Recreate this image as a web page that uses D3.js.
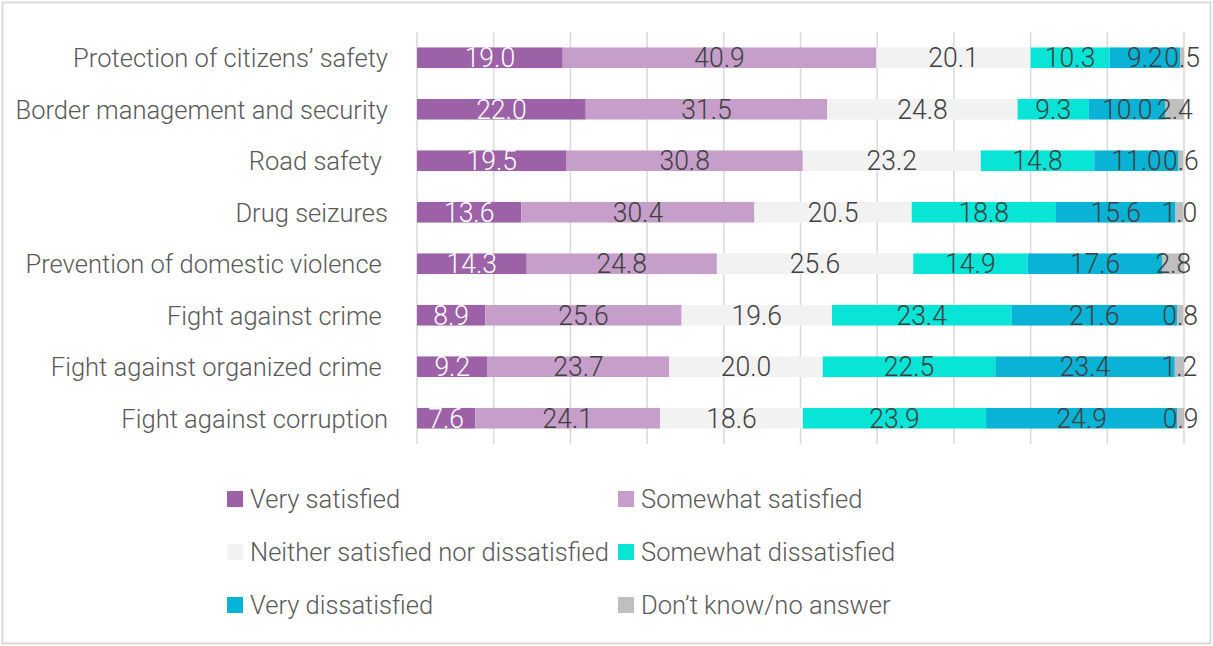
<!DOCTYPE html>
<html>
<head>
<meta charset="utf-8">
<script src="https://cdn.jsdelivr.net/npm/d3@7"></script>
<style>
	html, body { margin: 0; padding: 0; background: #fff; }
	svg text { font-family: Roboto, 'Noto Sans', sans-serif; font-weight: 300; white-space: pre; }
</style>
</head>
<body>
<div id="chart"></div>
<script>
const categories = [
	'Protection of citizens’ safety',
	'Border management and security',
	'Road safety ',
	'Drug seizures',
	'Prevention of domestic violence ',
	'Fight against crime ',
	'Fight against organized crime ',
	'Fight against corruption',
];
const seriesNames = [
	'Very satisfied',
	'Somewhat satisfied',
	'Neither satisfied nor dissatisfied',
	'Somewhat dissatisfied',
	'Very dissatisfied',
	'Don’t know/no answer',
];
const verySatisfied = [19.0, 22.0, 19.5, 13.6, 14.3, 8.9, 9.2, 7.6];
const somewhatSatisfied = [40.9, 31.5, 30.8, 30.4, 24.8, 25.6, 23.7, 24.1];
const neither = [20.1, 24.8, 23.2, 20.5, 25.6, 19.6, 20.0, 18.6];
const somewhatDissatisfied = [10.3, 9.3, 14.8, 18.8, 14.9, 23.4, 22.5, 23.9];
const veryDissatisfied = [9.2, 10.0, 11.0, 15.6, 17.6, 21.6, 23.4, 24.9];
const dontKnow = [0.5, 2.4, 0.6, 1.0, 2.8, 0.8, 1.2, 0.9];
const xTicks = [0, 10, 20, 30, 40, 50, 60, 70, 80, 90, 100];

const colors = ['#9c61a6', '#c59fc9', '#f2f2f2', '#08e4d6', '#0ab2d6', '#bfbfbf'];
const labelColors = ['#ffffff', '#404040', '#404040', '#404040', '#404040', '#404040'];

const series = [verySatisfied, somewhatSatisfied, neither, somewhatDissatisfied, veryDissatisfied, dontKnow];
const rows = categories.map((c, i) => {
	const r = { category: c };
	seriesNames.forEach((s, j) => { r[s] = series[j][i]; });
	return r;
});

const width = 1213;
const height = 646;

const svg = d3.select('#chart').append('svg')
	.attr('width', width)
	.attr('height', height);

svg.append('rect')
	.attr('x', 2.5).attr('y', 2.5)
	.attr('width', width - 5).attr('height', height - 5)
	.attr('fill', '#fff')
	.attr('stroke', '#d9d9d9')
	.attr('stroke-width', 2);

const xScale = d3.scaleLinear().domain([0, 100]).range([417, 1184]);
const yScale = d3.scaleBand().domain(categories).range([32, 444])
	.paddingInner(0.6).paddingOuter(0.3);

// condensed look: measure a label and squeeze all text horizontally
const fontSize = 26;
const probe = svg.append('text').attr('font-size', fontSize).text(categories[0]);
const squeeze = 315 / probe.node().getComputedTextLength();
probe.remove();

function label(parent, x, y, txt, anchor, size, color) {
	return parent.append('g')
		.attr('transform', `translate(${x},${y}) scale(${squeeze},1)`)
		.append('text')
		.attr('text-anchor', anchor)
		.attr('dy', '0.36em')
		.attr('font-size', size)
		.attr('fill', color)
		.text(txt);
}

// gridlines
svg.append('g')
	.selectAll('line')
	.data(xTicks)
	.join('line')
	.attr('x1', (d) => xScale(d)).attr('x2', (d) => xScale(d))
	.attr('y1', 32).attr('y2', 444)
	.attr('stroke', '#d9d9d9')
	.attr('stroke-width', 1.5);

const stack = d3.stack().keys(seriesNames)(rows);

const layers = svg.append('g')
	.selectAll('g')
	.data(stack)
	.join('g')
	.attr('fill', (d, i) => colors[i]);

layers.selectAll('rect')
	.data((d) => d)
	.join('rect')
	.attr('x', (d) => xScale(d[0]))
	.attr('y', (d) => yScale(d.data.category))
	.attr('width', (d) => xScale(d[1]) - xScale(d[0]))
	.attr('height', yScale.bandwidth());

const valueLayer = svg.append('g');
stack.forEach((layer, i) => {
	layer.forEach((d) => {
		label(valueLayer,
			(xScale(d[0]) + xScale(d[1])) / 2,
			yScale(d.data.category) + yScale.bandwidth() / 2,
			d3.format('.1f')(d[1] - d[0]), 'middle', fontSize + 1, labelColors[i]);
	});
});

// category labels
const catLayer = svg.append('g');
categories.forEach((c) => {
	label(catLayer, 388, yScale(c) + yScale.bandwidth() / 2, c, 'end', fontSize, '#595959');
});

// legend
const legend = svg.append('g');
seriesNames.forEach((s, i) => {
	const col = i % 2;
	const row = Math.floor(i / 2);
	const lx = col === 0 ? 227 : 618;
	const ly = 499 + row * 53;
	legend.append('rect')
		.attr('x', lx).attr('y', ly - 8)
		.attr('width', 16).attr('height', 16)
		.attr('fill', colors[i]);
	label(legend, lx + 23, ly, s, 'start', fontSize, '#595959');
});
</script>
</body>
</html>
